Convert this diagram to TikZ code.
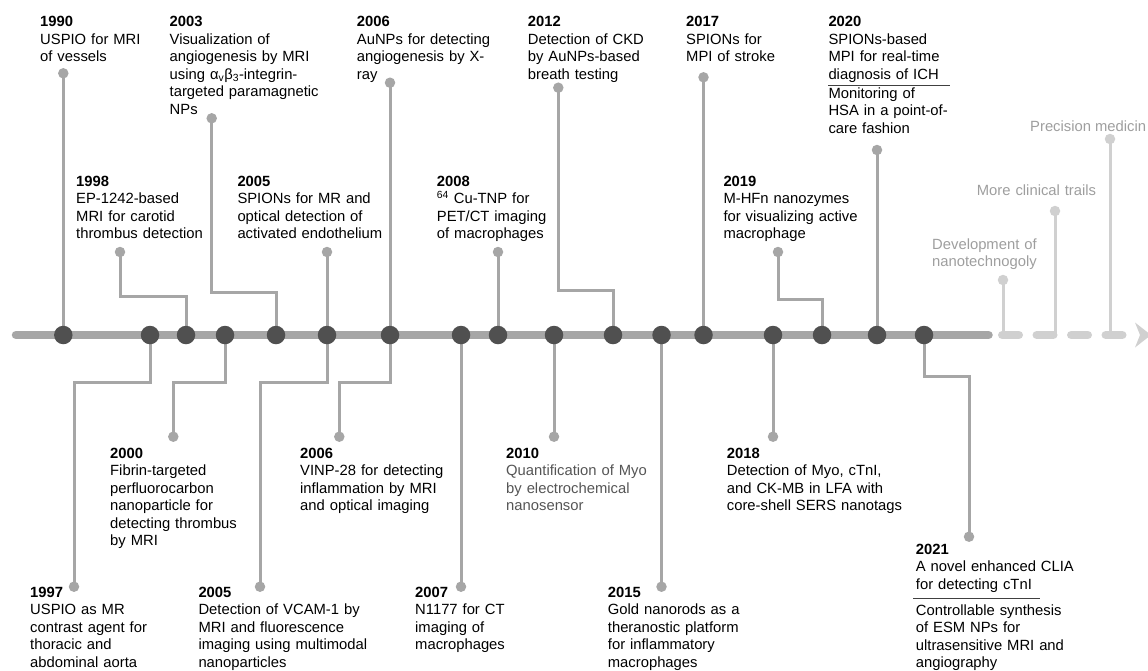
\documentclass[tikz,border=0pt]{standalone}
\usepackage{fontspec}
\setmainfont{Liberation Sans}
\definecolor{axisgray}{HTML}{A6A6A6}
\definecolor{nodedark}{HTML}{505050}
\definecolor{futgray}{HTML}{D0D0D0}
\definecolor{futtext}{HTML}{9E9E9E}
\definecolor{bodygray}{HTML}{555555}
\begin{document}
\begin{tikzpicture}[x=1pt,y=-1pt,
  mainaxis/.style={line width=8.5pt, color=axisgray, line cap=round},
  futaxis/.style={line width=8.5pt, color=futgray, line cap=round, dash pattern=on 16.5pt off 18pt},
  conn/.style={line width=3pt, color=axisgray},
  futconn/.style={line width=3pt, color=futgray},
  hub/.style={circle, fill=nodedark, minimum size=18.5pt, inner sep=0},
  tipdot/.style={circle, fill=axisgray, minimum size=10.5pt, inner sep=0},
  futtip/.style={circle, fill=futgray, minimum size=10.5pt, inner sep=0},
  evt/.style={anchor=base west, inner sep=0, text width=185pt, align=left, font=\fontsize{14.8}{17.5}\selectfont},
  futlabel/.style={evt, text=futtext},
  sepline/.style={line width=1pt, color=black!75}
]
\useasboundingbox (0,0) rectangle (1148,670);

% axis
\coordinate (axL) at (16,335);
\coordinate (axR) at (988.5,335);
\coordinate (fuL) at (1002.25,335);
\coordinate (fuR) at (1122.25,335);
\draw[mainaxis] (axL) -- (axR);
\draw[futaxis] (fuL) -- (fuR);
\fill[futgray] (1135,322.5) -- (1151,335) -- (1135,347.5) -- (1140,335) -- cycle;

% hubs on axis
\path
  (63.3,335) coordinate (h1)
  (150,335) coordinate (h2)
  (186,335) coordinate (h3)
  (225,335) coordinate (h4)
  (276,335) coordinate (h5)
  (327,335) coordinate (h6)
  (390,335) coordinate (h7)
  (461,335) coordinate (h8)
  (498,335) coordinate (h9)
  (554,335) coordinate (h10)
  (613,335) coordinate (h11)
  (661.5,335) coordinate (h12)
  (703.5,335) coordinate (h13)
  (773,335) coordinate (h14)
  (822,335) coordinate (h15)
  (877,335) coordinate (h16)
  (924,335) coordinate (h17);

% end dots
\path
  (63.3,73.3) coordinate (t1990)
  (74,586.7) coordinate (t1997)
  (120,252) coordinate (t1998)
  (173.3,436.7) coordinate (t2000)
  (211.7,118.3) coordinate (t2003)
  (327,252) coordinate (t2005a)
  (260,586.7) coordinate (t2005b)
  (390,82.7) coordinate (t2006a)
  (339.3,436.7) coordinate (t2006b)
  (461,586.7) coordinate (t2007)
  (498,252) coordinate (t2008)
  (554,436.7) coordinate (t2010)
  (558.3,87.7) coordinate (t2012)
  (661.5,586.7) coordinate (t2015)
  (703.5,77.3) coordinate (t2017)
  (773,436.7) coordinate (t2018)
  (778,252) coordinate (t2019)
  (877,150) coordinate (t2020)
  (969,536.7) coordinate (t2021)
  (1003,280) coordinate (tdev)
  (1055,211) coordinate (tclin)
  (1110,139) coordinate (tprec);

% elbow corners
\path
  (74,382) coordinate (e1997)
  (120,296) coordinate (e1998)
  (173.3,382) coordinate (e2000)
  (211.7,292) coordinate (e2003)
  (260,382) coordinate (e2005b)
  (339.3,382) coordinate (e2006b)
  (558.3,290) coordinate (e2012)
  (778,299) coordinate (e2019)
  (969,376) coordinate (e2021);

% connectors
\draw[conn] (h1) -- (t1990);
\draw[conn] (h2) |- (e1997) -- (t1997);
\draw[conn] (h3) |- (e1998) -- (t1998);
\draw[conn] (h4) |- (e2000) -- (t2000);
\draw[conn] (h5) |- (e2003) -- (t2003);
\draw[conn] (h6) -- (t2005a);
\draw[conn] (h6) |- (e2005b) -- (t2005b);
\draw[conn] (h7) -- (t2006a);
\draw[conn] (h7) |- (e2006b) -- (t2006b);
\draw[conn] (h8) -- (t2007);
\draw[conn] (h9) -- (t2008);
\draw[conn] (h10) -- (t2010);
\draw[conn] (h11) |- (e2012) -- (t2012);
\draw[conn] (h12) -- (t2015);
\draw[conn] (h13) -- (t2017);
\draw[conn] (h14) -- (t2018);
\draw[conn] (h15) |- (e2019) -- (t2019);
\draw[conn] (h16) -- (t2020);
\draw[conn] (h17) |- (e2021) -- (t2021);
\draw[futconn] (tdev) -- (tdev |- axL);
\draw[futconn] (tclin) -- (tclin |- axL);
\draw[futconn] (tprec) -- (tprec |- axL);

% hub circles
\foreach \i in {1,...,17} { \node[hub] (H\i) at (h\i) {}; }
% end dots
\foreach \t in {t1990,t1997,t1998,t2000,t2003,t2005a,t2005b,t2006a,t2006b,t2007,t2008,t2010,t2012,t2015,t2017,t2018,t2019,t2020,t2021} { \node[tipdot] (D\t) at (\t) {}; }
\foreach \t in {tdev,tclin,tprec} { \node[futtip] (D\t) at (\t) {}; }

% top row texts
\node[evt] (L1990) at (40,26.5) {\textbf{1990}\\USPIO for MRI\\of vessels};
\node[evt] (L2003) at (169.5,26.5) {\textbf{2003}\\Visualization of\\angiogenesis by MRI\\using α\textsubscript{v}β\textsubscript{3}-integrin-\\targeted paramagnetic\\NPs};
\node[evt] (L2006a) at (356.7,26.5) {\textbf{2006}\\AuNPs for detecting\\angiogenesis by X-\\ray};
\node[evt] (L2012) at (527.7,26.5) {\textbf{2012}\\Detection of CKD\\by AuNPs-based\\breath testing};
\node[evt] (L2017) at (686,26.5) {\textbf{2017}\\SPIONs for\\MPI of stroke};
\node[evt] (L2020) at (828.3,26.5) {\textbf{2020}\\SPIONs-based\\MPI for real-time\\diagnosis of ICH\\[1.5pt]Monitoring of\\HSA in a point-of-\\care fashion};
\draw[sepline] (828,85.5) -- (950,85.5);

% second top row
\node[evt] (L1998) at (76,186) {\textbf{1998}\\EP-1242-based\\MRI for carotid\\thrombus detection};
\node[evt] (L2005a) at (237.3,186) {\textbf{2005}\\SPIONs for MR and\\optical detection of\\activated endothelium};
\node[evt] (L2008) at (436.7,186) {\textbf{2008}\\\textsuperscript{64} Cu-TNP for\\PET/CT imaging\\of macrophages};
\node[evt] (L2019) at (723.3,186) {\textbf{2019}\\M-HFn nanozymes\\for visualizing active\\macrophage};

% bottom rows
\node[evt] (L2000) at (110,458) {\textbf{2000}\\Fibrin-targeted\\perfluorocarbon\\nanoparticle for\\detecting thrombus\\by MRI};
\node[evt] (L2006b) at (300,458) {\textbf{2006}\\VINP-28 for detecting\\inflammation by MRI\\and optical imaging};
\node[evt] (L2010) at (506,458) {\textbf{2010}\\\textcolor{bodygray}{Quantification of Myo}\\\textcolor{bodygray}{by electrochemical}\\\textcolor{bodygray}{nanosensor}};
\node[evt] (L2018) at (726.7,458) {\textbf{2018}\\Detection of Myo, cTnI,\\and CK-MB in LFA with\\core-shell SERS nanotags};

\node[evt] (L1997) at (30,597) {\textbf{1997}\\USPIO as MR\\contrast agent for\\thoracic and\\abdominal aorta};
\node[evt] (L2005b) at (198.3,597) {\textbf{2005}\\Detection of VCAM-1 by\\MRI and fluorescence\\imaging using multimodal\\nanoparticles};
\node[evt] (L2007) at (415,597) {\textbf{2007}\\N1177 for CT\\imaging of\\macrophages};
\node[evt] (L2015) at (607.7,597) {\textbf{2015}\\Gold nanorods as a\\theranostic platform\\for inflammatory\\macrophages};

\node[evt] (L2021) at (915.7,554) {\textbf{2021}\\A novel enhanced CLIA\\for detecting cTnI\\[8.5pt]Controllable synthesis\\of ESM NPs for\\ultrasensitive MRI and\\angiography};
\draw[sepline] (913,598) -- (1040,598);

% future
\node[futlabel] (Ldev) at (932,249) {Development of\\nanotechnogoly};
\node[futlabel] (Lclin) at (976.7,195) {More clinical trails};
\node[anchor=base west, inner sep=0, text=futtext, font=\fontsize{14.8}{17.5}\selectfont] (Lprec) at (1030,131.5) {Precision medicin};
\end{tikzpicture}
\end{document}
